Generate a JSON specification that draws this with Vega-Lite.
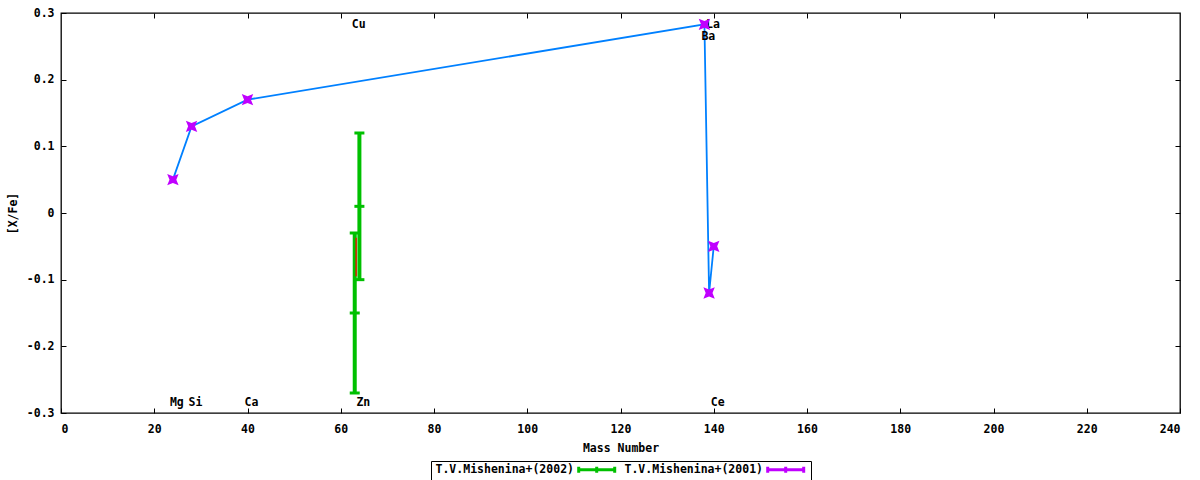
{
  "$schema": "https://vega.github.io/schema/vega-lite/v6.json",
  "autosize": "none",
  "width": 1119,
  "height": 400,
  "padding": {"left": 61, "top": 13, "right": 20, "bottom": 67},
  "background": "#ffffff",
  "datasets": {
    "purple": [
      {"el": "Mg", "mass": 24, "xfe": 0.05, "ord": 1},
      {"el": "Si", "mass": 28, "xfe": 0.13, "ord": 2},
      {"el": "Ca", "mass": 40, "xfe": 0.17, "ord": 3},
      {"el": "Ba", "mass": 138, "xfe": 0.283, "ord": 4},
      {"el": "La", "mass": 139, "xfe": -0.12, "ord": 5},
      {"el": "Ce", "mass": 140, "xfe": -0.05, "ord": 6}
    ],
    "green": [
      {"el": "Zn", "mass": 64, "xfe": 0.01, "lo": -0.1, "hi": 0.12, "series": "T.V.Mishenina+(2002)"},
      {"el": "Cu", "mass": 63, "xfe": -0.15, "lo": -0.27, "hi": -0.03, "series": "T.V.Mishenina+(2002)"}
    ],
    "red": [
      {"mass": 63.3, "lo": -0.095, "hi": -0.037}
    ],
    "labels": [
      {"el": "Mg", "mass": 24, "pos": -0.285},
      {"el": "Si", "mass": 28, "pos": -0.285},
      {"el": "Ca", "mass": 40, "pos": -0.285},
      {"el": "Zn", "mass": 64, "pos": -0.285},
      {"el": "Ce", "mass": 140, "pos": -0.285},
      {"el": "Cu", "mass": 63, "pos": 0.282},
      {"el": "La", "mass": 139, "pos": 0.282},
      {"el": "Ba", "mass": 138, "pos": 0.264}
    ]
  },
  "config": {
    "view": {"stroke": "#000000", "strokeWidth": 1.3},
    "axis": {
      "domain": false,
      "grid": false,
      "tickColor": "#000000",
      "tickSize": -5,
      "tickWidth": 1,
      "labelFont": "DejaVu Sans Mono",
      "labelFontWeight": "bold",
      "labelFontSize": 11.5,
      "labelColor": "#000000",
      "titleFont": "DejaVu Sans Mono",
      "titleFontWeight": "bold",
      "titleFontSize": 11.5,
      "titleColor": "#000000"
    },
    "legend": {
      "orient": "bottom",
      "direction": "horizontal",
      "layout": {"bottom": {"anchor": "middle"}},
      "labelFont": "DejaVu Sans Mono",
      "labelFontWeight": "bold",
      "labelFontSize": 11.5,
      "labelColor": "#000000",
      "labelAlign": "right",
      "strokeColor": "#000000",
      "padding": 1,
      "offset": 7,
      "columnPadding": 0
    }
  },
  "resolve": {"axis": {"x": "independent", "y": "independent"}},
  "layer": [
    {
      "data": {"name": "green"},
      "mark": {"type": "rule", "strokeWidth": 4},
      "encoding": {
        "x": {
          "field": "mass", "type": "quantitative",
          "scale": {"domain": [0, 240], "nice": false, "zero": false},
          "axis": {"orient": "bottom", "values": [0, 20, 40, 60, 80, 100, 120, 140, 160, 180, 200, 220, 240], "format": "d", "labelPadding": 15, "title": "Mass Number", "titlePadding": 8}
        },
        "y": {
          "field": "lo", "type": "quantitative",
          "scale": {"domain": [-0.3, 0.3], "nice": false, "zero": false},
          "axis": {"orient": "left", "values": [-0.3, -0.2, -0.1, 0, 0.1, 0.2, 0.3], "labelExpr": "abs(datum.value) < 1e-9 ? '0' : replace(format(datum.value, '.1f'), '\u2212', '-')", "labelPadding": 12, "title": "[X/Fe]", "titlePadding": 8}
        },
        "y2": {"field": "hi"},
        "color": {
          "field": "series", "type": "nominal",
          "scale": {"domain": ["T.V.Mishenina+(2002)", "T.V.Mishenina+(2001)"], "range": ["#00c000", "#c000ff"]},
          "legend": {
            "title": null,
            "symbolType": "M23.2,0H29.2M23.2,-0.5V0.5M29.2,-0.5V0.5M26.2,-0.5V0.5",
            "symbolSize": 144,
            "symbolStrokeWidth": 3,
            "labelOffset": 127
          }
        }
      }
    },
    {
      "data": {"name": "green"},
      "transform": [{"fold": ["lo", "hi", "xfe"], "as": ["kind", "val"]}],
      "mark": {"type": "tick", "orient": "horizontal", "size": 10, "thickness": 3, "color": "#00c000", "opacity": 1},
      "encoding": {
        "x": {"field": "mass", "type": "quantitative", "axis": null},
        "y": {"field": "val", "type": "quantitative", "axis": null}
      }
    },
    {
      "data": {"name": "red"},
      "mark": {"type": "rule", "strokeWidth": 1.3, "color": "#ff0000"},
      "encoding": {
        "x": {"field": "mass", "type": "quantitative", "axis": null},
        "y": {"field": "lo", "type": "quantitative", "axis": null},
        "y2": {"field": "hi"}
      }
    },
    {
      "data": {"name": "purple"},
      "mark": {"type": "line", "strokeWidth": 1.8, "color": "#0080ff"},
      "encoding": {
        "x": {"field": "mass", "type": "quantitative", "axis": null},
        "y": {"field": "xfe", "type": "quantitative", "axis": null},
        "order": {"field": "ord", "type": "quantitative"}
      }
    },
    {
      "data": {"name": "labels"},
      "mark": {"type": "text", "align": "left", "baseline": "middle", "dx": -3, "font": "DejaVu Sans Mono", "fontWeight": "bold", "fontSize": 11.5, "color": "#000000"},
      "encoding": {
        "x": {
          "field": "mass", "type": "quantitative",
          "axis": {"orient": "top", "values": [20, 40, 60, 80, 100, 120, 140, 160, 180, 200, 220], "labels": false, "title": null}
        },
        "y": {
          "field": "pos", "type": "quantitative",
          "axis": {"orient": "right", "values": [-0.2, -0.1, 0, 0.1, 0.2], "labels": false, "title": null}
        },
        "text": {"field": "el", "type": "nominal"}
      }
    },
    {
      "data": {"name": "purple"},
      "mark": {"type": "point", "shape": "M-1,-1L-0.6,0L-1,1L0,0.6L1,1L0.6,0L1,-1L0,-0.6Z", "size": 130, "filled": true, "color": "#c000ff", "opacity": 1},
      "encoding": {
        "x": {"field": "mass", "type": "quantitative", "axis": null},
        "y": {"field": "xfe", "type": "quantitative", "axis": null}
      }
    }
  ]
}
